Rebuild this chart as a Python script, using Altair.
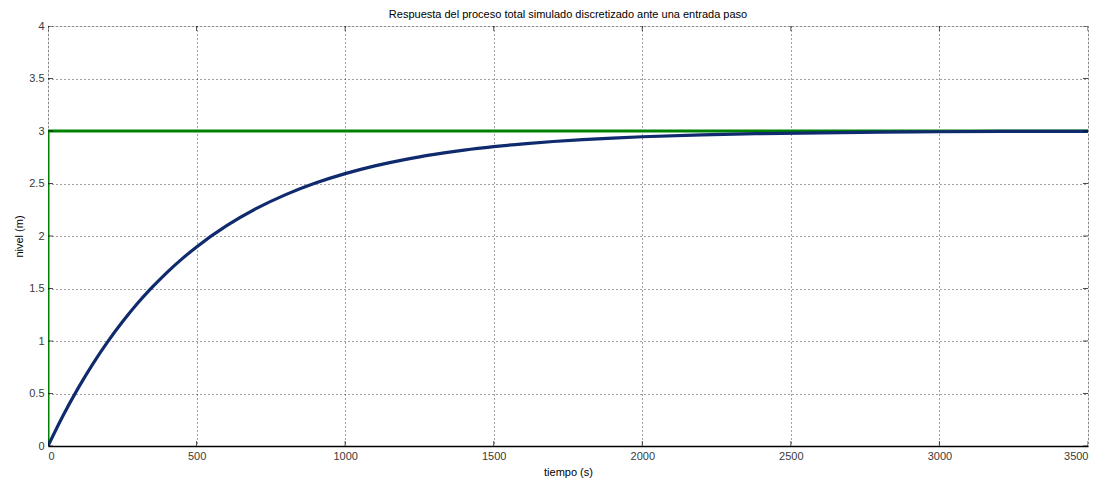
import altair as alt
import pandas as pd

# Blue response
t_resp = [0, 50, 100, 150, 200, 250, 300, 350, 400, 450, 500, 600, 700, 800, 900, 1000,
          1100, 1200, 1300, 1400, 1500, 1600, 1700, 1800, 1900, 2000, 2200, 2400, 2600, 2800, 3000, 3250, 3500]
y_resp = [0.0, 0.286, 0.544, 0.778, 0.989, 1.180, 1.354, 1.510, 1.652, 1.780, 1.896, 2.096, 2.260, 2.394, 2.504, 2.594,
          2.668, 2.728, 2.777, 2.818, 2.851, 2.878, 2.900, 2.918, 2.933, 2.945, 2.963, 2.975, 2.983, 2.989, 2.993, 2.996, 2.997]

# Green step input
t_step = [0, 0, 3500]
y_step = [0, 3, 3]

x_ticks = [0, 500, 1000, 1500, 2000, 2500, 3000, 3500]
y_ticks = [0, 0.5, 1, 1.5, 2, 2.5, 3, 3.5, 4]

W, H = 1040, 420
FONT = "Liberation Sans"

resp = pd.DataFrame({"t": t_resp, "y": y_resp})
step = pd.DataFrame({"t": t_step, "y": y_step, "o": list(range(len(t_step)))})

xs = alt.Scale(domain=[0, 3500], nice=False, zero=False)
ys = alt.Scale(domain=[0, 4], nice=False, zero=False)

x_axis = alt.Axis(values=x_ticks, format="d", title="tiempo (s)", grid=True, gridDash=[1, 3], gridColor="#000000",
                  gridOpacity=0.75, ticks=False, labelPadding=4, domain=True, domainColor="#000000", domainWidth=1.5,
                  labelFont=FONT, labelFontSize=11, labelColor="#3a3a3a",
                  titleFont=FONT, titleFontSize=11, titleFontWeight="normal", titleColor="#000000", titlePadding=5)
y_axis = alt.Axis(values=y_ticks, format="~g", title="nivel (m)", grid=True, gridDash=[1, 3], gridColor="#000000",
                  gridOpacity=0.75, ticks=False, labelPadding=4, domain=False,
                  labelFont=FONT, labelFontSize=11, labelColor="#3a3a3a",
                  titleFont=FONT, titleFontSize=11, titleFontWeight="normal", titleColor="#000000", titlePadding=4)

green = alt.Chart(step).mark_line(color="#008000", strokeWidth=3, clip=True).encode(
    x=alt.X("t:Q", scale=xs, axis=x_axis),
    y=alt.Y("y:Q", scale=ys, axis=y_axis),
    order="o:Q",
)

blue = alt.Chart(resp).mark_line(color="#0f2b6e", strokeWidth=3.2, interpolate="monotone", clip=True).encode(
    x=alt.X("t:Q", scale=xs),
    y=alt.Y("y:Q", scale=ys),
)

# inside ticks (MATLAB style)
xt = pd.DataFrame({"t": x_ticks})
yt = pd.DataFrame({"v": y_ticks})
tick_bottom = alt.Chart(xt).mark_tick(orient="vertical", size=10, thickness=1, color="#000000", clip=True).encode(
    x=alt.X("t:Q", scale=xs), y=alt.datum(0, scale=ys))
tick_top = alt.Chart(xt).mark_tick(orient="vertical", size=10, thickness=1, color="#000000", clip=True).encode(
    x=alt.X("t:Q", scale=xs), y=alt.datum(4, scale=ys))
tick_left = alt.Chart(yt).mark_tick(orient="horizontal", size=10, thickness=1, color="#000000", clip=True).encode(
    y=alt.Y("v:Q", scale=ys), x=alt.datum(0, scale=xs))
tick_right = alt.Chart(yt).mark_tick(orient="horizontal", size=10, thickness=1, color="#000000", clip=True).encode(
    y=alt.Y("v:Q", scale=ys), x=alt.datum(3500, scale=xs))

chart = alt.layer(green, blue, tick_bottom, tick_top, tick_left, tick_right).properties(
    width=W, height=H,
    title=alt.TitleParams("Respuesta del proceso total simulado discretizado ante una entrada paso",
                          font=FONT, fontSize=11, fontWeight="normal", color="#000000", offset=0),
    autosize=alt.AutoSizeParams(type="none"),
    padding={"left": 40, "top": 18, "right": 10, "bottom": 40},
).configure_view(stroke="#777777", strokeWidth=1.5).configure(background="#ffffff")

chart.save("out.html", embed_options={"renderer": "svg", "actions": False})
